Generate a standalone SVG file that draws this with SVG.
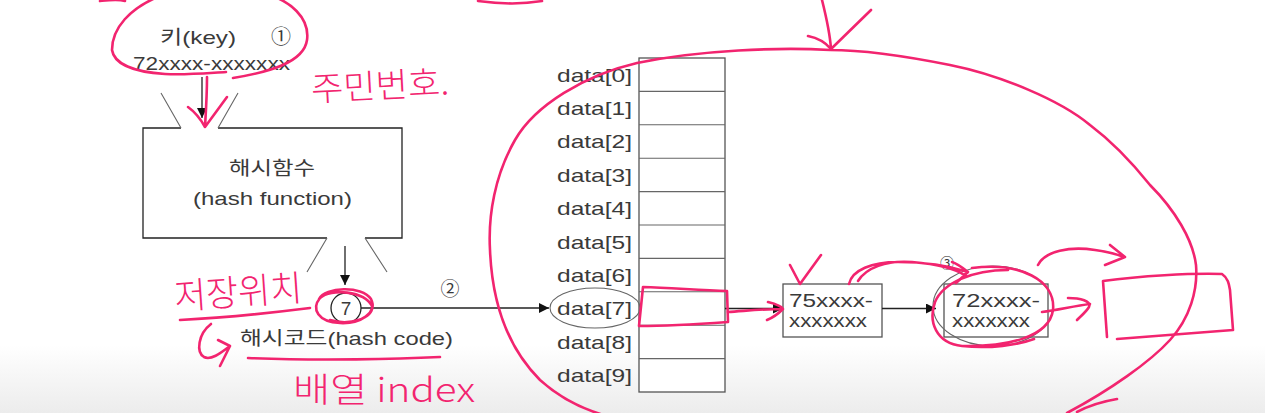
<svg xmlns="http://www.w3.org/2000/svg" width="1265" height="413" viewBox="0 0 1265 413">
<defs>
<style>
.t{font-family:'Liberation Sans','Noto Sans CJK KR',sans-serif;fill:#3a3a3a;font-size:19px}
.k{font-family:'Noto Sans CJK KR','Liberation Sans',sans-serif;fill:#3a3a3a}
.ln{stroke:#222;stroke-width:1.3;fill:none}
.lg{stroke:#666;stroke-width:1.1;fill:none}
.cell{stroke:#555;stroke-width:1.3;fill:#fff}
.pk{stroke:#f2246f;stroke-width:2.6;fill:none;stroke-linecap:round;stroke-linejoin:round}
.hw{font-family:'Noto Sans CJK KR',sans-serif;fill:#f2246f;font-weight:300}
</style>
<marker id="ah" viewBox="0 0 10 10" refX="10" refY="5" markerWidth="10" markerHeight="10" markerUnits="userSpaceOnUse" orient="auto">
<path d="M0,0 L10,5 L0,10 Z" fill="#111"/>
</marker>
<linearGradient id="bg" x1="0" y1="0" x2="0" y2="1">
<stop offset="0" stop-color="#ffffff"/>
<stop offset="1" stop-color="#ececec"/>
</linearGradient>
</defs>
<rect width="1265" height="413" fill="#fff"/>
<rect y="345" width="1265" height="68" fill="url(#bg)"/>

<g id="key">
<text class="t" x="160" y="44" textLength="76" lengthAdjust="spacingAndGlyphs">키(key)</text>
<text class="k" x="281" y="44" font-size="20" text-anchor="middle">①</text>
<text class="t" x="133" y="70" textLength="157" lengthAdjust="spacingAndGlyphs">72xxxx-xxxxxxx</text>
</g>

<g id="hash-function">
<path class="ln" d="M181,128 H143 V238 H327 M365,238 H402 V128 H218"/>
<path class="lg" d="M181,128 L161,93 M218,128 L238,93 M327,238 L307,272 M365,238 L387,272"/>
<text class="t" x="229" y="175" font-size="20" textLength="86" lengthAdjust="spacingAndGlyphs">해시함수</text>
<text class="t" x="193" y="205" font-size="20" textLength="159" lengthAdjust="spacingAndGlyphs">(hash function)</text>
</g>

<g id="hash-code">
<circle cx="346" cy="308" r="15" class="ln"/>
<text class="t" x="346" y="315" font-size="20" text-anchor="middle">7</text>
<text class="t" x="240" y="345" textLength="213" lengthAdjust="spacingAndGlyphs">해시코드(hash code)</text>
<text class="k" x="450" y="296" font-size="19" text-anchor="middle" fill="#555">②</text>
</g>

<g id="array">
<rect class="cell" x="639" y="58" width="86" height="334"/>
<path class="lg" d="M639,91.4H725M639,124.8H725M639,158.2H725M639,191.6H725M639,225H725M639,258.4H725M639,291.8H725M639,325.2H725M639,358.6H725"/>
<g class="t" text-anchor="end" font-size="19">
<text x="632" y="81.5" textLength="75" lengthAdjust="spacingAndGlyphs">data[0]</text>
<text x="632" y="114.9" textLength="75" lengthAdjust="spacingAndGlyphs">data[1]</text>
<text x="632" y="148.3" textLength="75" lengthAdjust="spacingAndGlyphs">data[2]</text>
<text x="632" y="181.7" textLength="75" lengthAdjust="spacingAndGlyphs">data[3]</text>
<text x="632" y="215.1" textLength="75" lengthAdjust="spacingAndGlyphs">data[4]</text>
<text x="632" y="248.5" textLength="75" lengthAdjust="spacingAndGlyphs">data[5]</text>
<text x="632" y="281.9" textLength="75" lengthAdjust="spacingAndGlyphs">data[6]</text>
<text x="632" y="315.3" textLength="75" lengthAdjust="spacingAndGlyphs">data[7]</text>
<text x="632" y="348.7" textLength="75" lengthAdjust="spacingAndGlyphs">data[8]</text>
<text x="632" y="382.1" textLength="75" lengthAdjust="spacingAndGlyphs">data[9]</text>
</g>
<ellipse cx="595" cy="308" rx="45" ry="20" class="lg" stroke="#444"/>
</g>

<g id="node-75">
<rect class="cell" x="783" y="284" width="99" height="53" stroke="#222"/>
<text class="t" x="789" y="307" font-size="16" textLength="84" lengthAdjust="spacingAndGlyphs">75xxxx-</text>
<text class="t" x="789" y="327" font-size="16" textLength="78" lengthAdjust="spacingAndGlyphs">xxxxxxx</text>
</g>

<g id="node-72">
<rect class="cell" x="944" y="284" width="104" height="53" stroke="#222"/>
<ellipse cx="993" cy="306" rx="60" ry="40" class="lg" stroke="#555"/>
<text class="t" x="952" y="307" font-size="16" textLength="88" lengthAdjust="spacingAndGlyphs">72xxxx-</text>
<text class="t" x="952" y="327" font-size="16" textLength="78" lengthAdjust="spacingAndGlyphs">xxxxxxx</text>
<text class="k" x="947" y="268" font-size="14" text-anchor="middle" fill="#777">③</text>
</g>

<g id="connectors">
<path class="ln" d="M202,77 V118" marker-end="url(#ah)"/>
<path class="ln" d="M345,246 V285" marker-end="url(#ah)"/>
<path class="ln" d="M361,308 H549" marker-end="url(#ah)"/>
<path class="ln" d="M725,308.5 H783" marker-end="url(#ah)"/>
<path class="ln" d="M882,308.5 H936" marker-end="url(#ah)"/>
</g>

<g id="annotations">
<path class="pk" d="M233,78 C270,72 304,62 307,40 C310,18 290,0 265,-6 M112,50 C112,28 130,8 160,-4 M112,50 C114,64 134,72 165,74 C188,75 208,73 226,72"/>
<path class="pk" d="M100,1 C110,0 118,-1 125,1 M478,1 C500,4 525,4 542,1"/>
<path class="pk" d="M207,77 C207,95 206,110 205,127 M188,107 C195,112 200,118 205,127 L227,97"/>
<text class="hw" x="311" y="98" font-size="34" textLength="138" lengthAdjust="spacingAndGlyphs" transform="rotate(-3 380 85)">주민번호.</text>

<text class="hw" x="174" y="305" font-size="36" textLength="128" lengthAdjust="spacingAndGlyphs" transform="rotate(-4 238 290)">저장위치</text>
<path class="pk" d="M180,320 C220,318 270,313 310,308"/>
<path class="pk" d="M319,299 C325,287 362,285 371,299 C378,313 360,324 340,323 C318,322 311,309 320,298 C331,288 364,291 372,306 C374,318 350,326 330,320"/>
<path class="pk" d="M211,324 C198,334 196,352 204,357 C211,361 222,352 230,346 M218,340 L230,346 L220,366"/>
<path class="pk" d="M248,358 C320,361 400,359 440,357"/>
<text class="hw" x="293" y="402" font-size="34" textLength="182" lengthAdjust="spacingAndGlyphs">배열 index</text>

<path class="pk" d="M1067,413 C1110,390 1150,362 1170,340 C1190,318 1198,290 1196,265 C1193,240 1175,210 1150,185 C1130,160 1110,140 1090,125 C1060,100 1000,75 950,65 C900,55 860,50 830,50 C780,47 700,50 637,63 C585,75 535,105 515,140 C495,175 488,215 490,250 C492,300 505,345 540,380 C560,398 585,410 607,416"/>
<path class="pk" d="M1077,412 C1090,405 1105,401 1117,399"/>
<path class="pk" d="M822,0 C826,16 830,34 831,49 M808,36 C818,38 826,43 831,49 L871,10"/>

<path class="pk" d="M643,287 C670,288 700,290 727,291 L728,322 C700,324 670,326 639,326 Z"/>
<path class="pk" d="M728,312 C745,311 762,309 783,309 M768,302 C776,304 782,307 783,309 C778,314 772,318 767,320"/>
<path class="pk" d="M790,265 L800,284 L821,255"/>
<path class="pk" d="M849,284 C852,270 872,262 898,262 C925,262 950,266 968,272 M858,281 C866,268 886,260 912,262 C936,264 955,268 966,276 M952,262 C958,264 963,268 968,272 L956,283"/>
<path class="pk" d="M972,268 C1020,262 1056,280 1053,310 C1049,338 1005,347 962,346 C936,343 928,322 935,302 C943,283 972,270 1008,270 M962,346 C990,349 1018,345 1034,339"/>
<path class="pk" d="M1042,312 C1058,310 1074,306 1090,304 M1068,298 C1080,298 1092,301 1089,307 C1086,312 1081,316 1077,320"/>
<path class="pk" d="M1038,265 C1045,251 1070,246 1095,250 C1108,252 1117,254 1124,257 M1110,245 L1125,257 L1105,265"/>
<path class="pk" d="M1107,337 L1103,281 C1140,276 1190,273 1222,274 C1228,278 1229,284 1230,290 L1233,330 C1195,333 1155,336 1117,339"/>
</g>
</svg>
